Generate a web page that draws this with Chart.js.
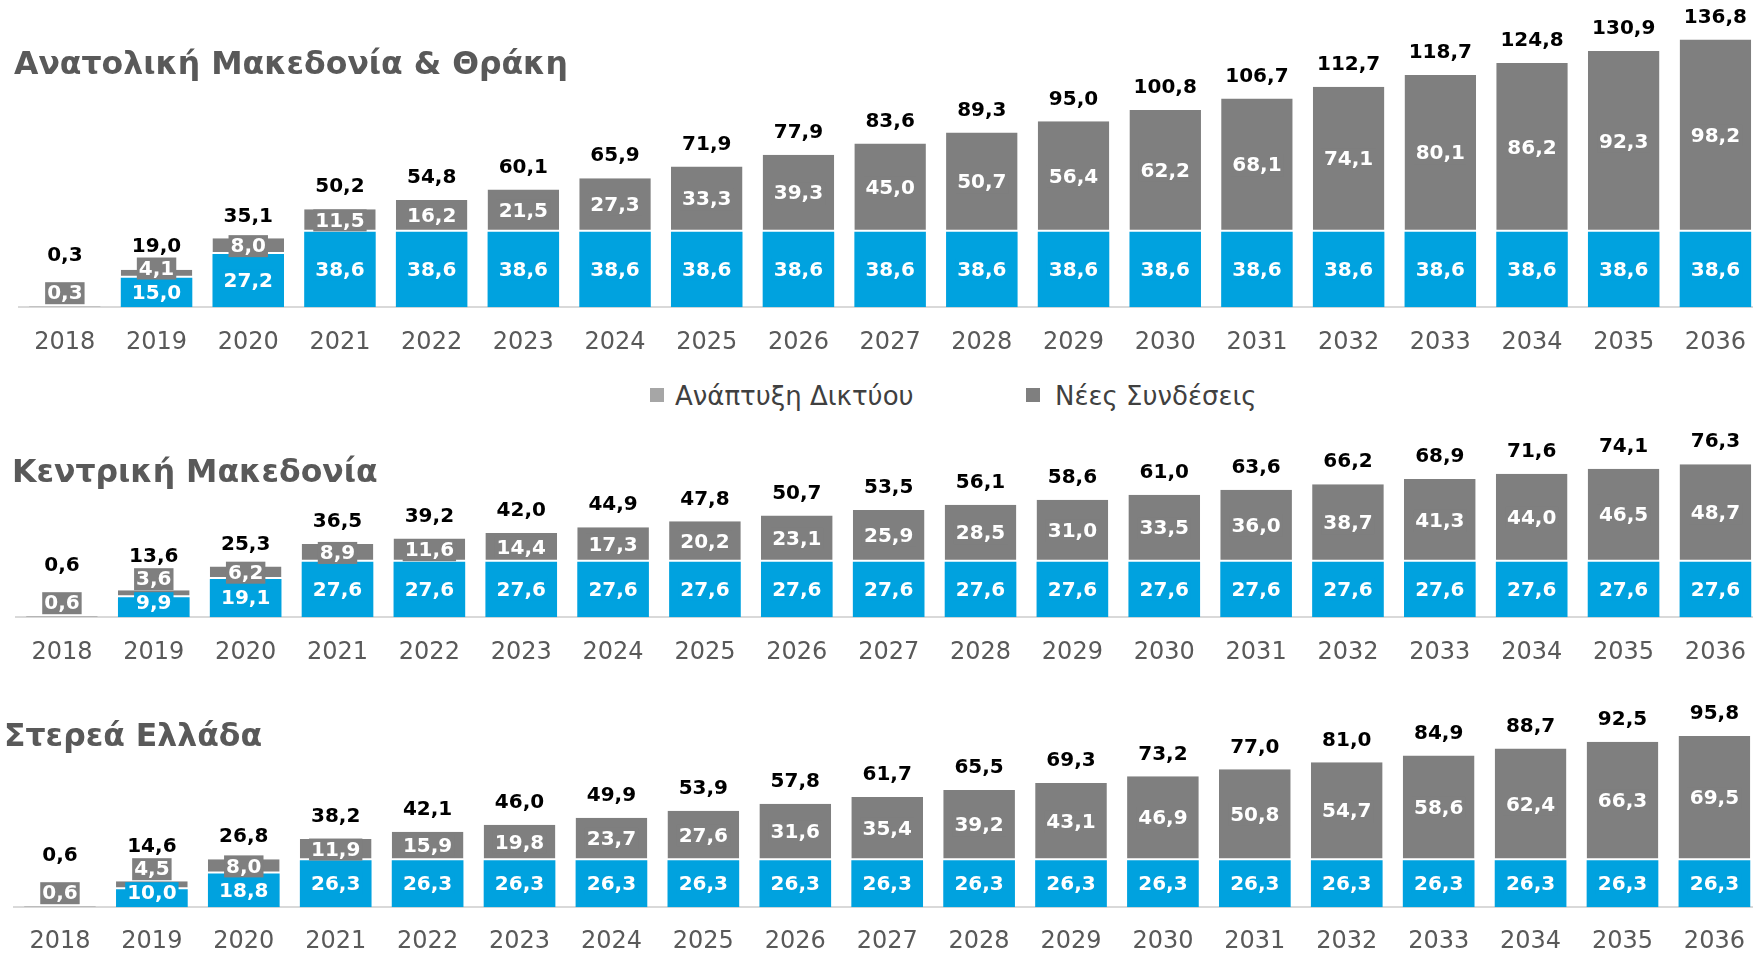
<!DOCTYPE html>
<html>
<head>
<meta charset="utf-8">
<script src="https://cdn.jsdelivr.net/npm/chart.js@4.4.1/dist/chart.umd.min.js"></script>
<style>
  html, body { margin: 0; padding: 0; background: #fff; overflow: hidden; }
  #page { position: relative; width: 1753px; height: 953px; overflow: hidden; }
  canvas { position: absolute; left: 0; }
  .title { position: absolute; font: bold 31.5px 'DejaVu Sans', sans-serif; color: #595959; line-height: 32px; white-space: nowrap; }
  .lg { position: absolute; font: 26px 'DejaVu Sans', sans-serif; color: #404040; line-height: 30px; white-space: nowrap; }
  .sq { position: absolute; width: 14px; height: 14px; }
</style>
</head>
<body>
<div id="page">
  <canvas id="c1" width="1767" height="378" style="top:0"></canvas>
  <canvas id="c2" width="1767" height="268" style="top:420px"></canvas>
  <canvas id="c3" width="1765" height="286" style="top:690px"></canvas>

  <div class="title" style="left:14px;top:47px">Ανατολική Μακεδονία &amp; Θράκη</div>
  <div class="title" style="left:12px;top:455px">Κεντρική Μακεδονία</div>
  <div class="title" style="left:4px;top:719px">Στερεά Ελλάδα</div>

  <div class="sq" style="left:650px;top:388px;background:#a6a6a6"></div>
  <div class="lg" style="left:675px;top:381px">Ανάπτυξη Δικτύου</div>
  <div class="sq" style="left:1026px;top:388px;background:#7f7f7f"></div>
  <div class="lg" style="left:1055px;top:381px">Νέες Συνδέσεις</div>
</div>

<script>
const years = ['2018', '2019', '2020', '2021', '2022', '2023', '2024', '2025', '2026', '2027',
  '2028', '2029', '2030', '2031', '2032', '2033', '2034', '2035', '2036'];

// Ανατολική Μακεδονία & Θράκη
const amthNetwork = [0, 15.0, 27.2, 38.6, 38.6, 38.6, 38.6, 38.6, 38.6, 38.6, 38.6, 38.6, 38.6, 38.6, 38.6, 38.6, 38.6, 38.6, 38.6];
const amthNew = [0.3, 4.1, 8.0, 11.5, 16.2, 21.5, 27.3, 33.3, 39.3, 45.0, 50.7, 56.4, 62.2, 68.1, 74.1, 80.1, 86.2, 92.3, 98.2];
const amthTotal = [0.3, 19.0, 35.1, 50.2, 54.8, 60.1, 65.9, 71.9, 77.9, 83.6, 89.3, 95.0, 100.8, 106.7, 112.7, 118.7, 124.8, 130.9, 136.8];

// Κεντρική Μακεδονία
const kmNetwork = [0, 9.9, 19.1, 27.6, 27.6, 27.6, 27.6, 27.6, 27.6, 27.6, 27.6, 27.6, 27.6, 27.6, 27.6, 27.6, 27.6, 27.6, 27.6];
const kmNew = [0.6, 3.6, 6.2, 8.9, 11.6, 14.4, 17.3, 20.2, 23.1, 25.9, 28.5, 31.0, 33.5, 36.0, 38.7, 41.3, 44.0, 46.5, 48.7];
const kmTotal = [0.6, 13.6, 25.3, 36.5, 39.2, 42.0, 44.9, 47.8, 50.7, 53.5, 56.1, 58.6, 61.0, 63.6, 66.2, 68.9, 71.6, 74.1, 76.3];

// Στερεά Ελλάδα
const seNetwork = [0, 10.0, 18.8, 26.3, 26.3, 26.3, 26.3, 26.3, 26.3, 26.3, 26.3, 26.3, 26.3, 26.3, 26.3, 26.3, 26.3, 26.3, 26.3];
const seNew = [0.6, 4.5, 8.0, 11.9, 15.9, 19.8, 23.7, 27.6, 31.6, 35.4, 39.2, 43.1, 46.9, 50.8, 54.7, 58.6, 62.4, 66.3, 69.5];
const seTotal = [0.6, 14.6, 26.8, 38.2, 42.1, 46.0, 49.9, 53.9, 57.8, 61.7, 65.5, 69.3, 73.2, 77.0, 81.0, 84.9, 88.7, 92.5, 95.8];

const BLUE = '#00a2df';
const GRAY = '#7f7f7f';
const FONT = "'DejaVu Sans', sans-serif";

Chart.defaults.font.family = FONT;

const fmt = v => v.toFixed(1).replace('.', ',');

// ετικέτες τιμών μέσα στα τμήματα + σύνολο πάνω από τη στήλη
const segLabels = {
  id: 'segLabels',
  afterDatasetsDraw(chart, args, opts) {
    const ctx = chart.ctx;
    const baseY = chart.scales.y.getPixelForValue(0);
    const boxH = 22;
    ctx.save();
    ctx.font = 'bold 20px ' + FONT;
    ctx.textAlign = 'center';
    ctx.textBaseline = 'middle';
    opts.totals.forEach((tot, i) => {
      let prev = Infinity;
      let labelsTop = Infinity;
      let barTop = baseY;
      chart.data.datasets.forEach((ds, d) => {
        const v = ds.data[i];
        if (!v) return;
        const bar = chart.getDatasetMeta(d).data[i];
        barTop = Math.min(barTop, bar.y);
        const mid = (bar.y + bar.base) / 2;
        const cy = Math.min(mid, baseY - 3 - boxH / 2, prev - boxH - 2);
        const txt = fmt(v);
        const w = ctx.measureText(txt).width + 4;
        ctx.fillStyle = ds.backgroundColor;
        ctx.fillRect(bar.x - w / 2, cy - boxH / 2, w, boxH);
        ctx.fillStyle = '#ffffff';
        ctx.fillText(txt, bar.x, cy + 1);
        prev = cy;
        labelsTop = Math.min(labelsTop, cy - boxH / 2);
      });
      const x = chart.getDatasetMeta(1).data[i].x;
      const ty = Math.min(barTop - 23, labelsTop - 12, baseY - 52);
      ctx.fillStyle = '#000000';
      ctx.fillText(fmt(tot), x, ty + 1);
    });
    ctx.restore();
  }
};

function makeChart(id, network, newConn, totals, yMax, padLeft, tickPad) {
  return new Chart(document.getElementById(id), {
    type: 'bar',
    data: {
      labels: years,
      datasets: [
        {
          label: 'Ανάπτυξη Δικτύου',
          data: network,
          backgroundColor: BLUE,
          borderWidth: 0
        },
        {
          label: 'Νέες Συνδέσεις',
          data: newConn,
          backgroundColor: GRAY,
          borderColor: '#ffffff',
          borderWidth: { top: 0, left: 0, right: 0, bottom: 2 },
          borderSkipped: false
        }
      ]
    },
    options: {
      responsive: false,
      animation: false,
      layout: { padding: { left: padLeft, right: 2, top: 35, bottom: 0 } },
      datasets: { bar: { barPercentage: 0.78, categoryPercentage: 1 } },
      plugins: {
        legend: { display: false },
        tooltip: { enabled: false },
        segLabels: { totals: totals }
      },
      scales: {
        x: {
          stacked: true,
          grid: { display: false, drawTicks: false },
          border: { display: true, color: '#d9d9d9', width: 2 },
          ticks: { color: '#595959', font: { size: 24 }, padding: tickPad }
        },
        y: {
          stacked: true,
          display: false,
          min: 0,
          max: yMax
        }
      }
    },
    plugins: [segLabels]
  });
}

makeChart('c1', amthNetwork, amthNew, amthTotal, 139.1, 19, 21);
makeChart('c2', kmNetwork, kmNew, kmTotal, 80.9, 16, 21);
makeChart('c3', seNetwork, seNew, seTotal, 101.9, 14, 20);
</script>
</body>
</html>
